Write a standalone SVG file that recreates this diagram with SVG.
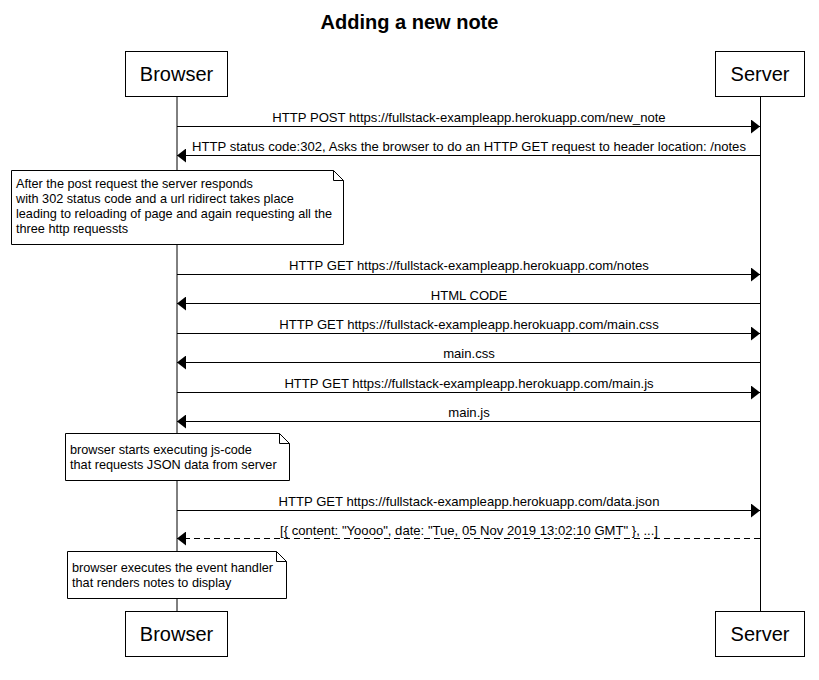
<svg xmlns="http://www.w3.org/2000/svg" width="819" height="680" viewBox="0 0 819 680">
<style>
text{font-family:"Liberation Sans",Arial,sans-serif;fill:#000}
.title{font-size:20px;font-weight:bold;text-anchor:middle}
.actor rect{fill:#fff;stroke:#000;stroke-width:1}
.actor text{font-size:20px;text-anchor:middle}
.life{stroke:#000;stroke-width:1}
.msg{stroke:#000;stroke-width:1;fill:none}
.dash{stroke-dasharray:6,4}
.lbl{font-size:13.1px;text-anchor:middle}
.note path{fill:#fff;stroke:#000;stroke-width:1}
.note text{font-size:12.7px}
</style>
<defs>
<marker id="ah" markerWidth="9" markerHeight="14" refX="9" refY="7" orient="auto" markerUnits="userSpaceOnUse">
<path d="M0,0 L9,7 L0,14 Z" fill="#000"/>
</marker>
</defs>
<rect width="819" height="680" fill="#fff"/>
<text class="title" x="409.5" y="29">Adding a new note</text>
<g id="lifelines">
<line class="life" x1="177" y1="96" x2="177" y2="612"/>
<line class="life" x1="760.5" y1="96" x2="760.5" y2="612"/>
</g>
<g id="browser-top" class="actor"><rect x="125.5" y="51.5" width="102" height="45"/><text x="176.5" y="81">Browser</text></g>
<g id="server-top" class="actor"><rect x="715.5" y="51.5" width="89" height="45"/><text x="760" y="81">Server</text></g>
<g id="browser-bottom" class="actor"><rect x="125.5" y="611.5" width="102" height="45"/><text x="176.5" y="641">Browser</text></g>
<g id="server-bottom" class="actor"><rect x="715.5" y="611.5" width="89" height="45"/><text x="760" y="641">Server</text></g>
<g id="connectors">
<line class="msg" x1="177" y1="126.5" x2="760" y2="126.5" marker-end="url(#ah)"/>
<text class="lbl" x="469" y="122">HTTP POST https://fullstack-exampleapp.herokuapp.com/new_note</text>
<line class="msg" x1="760" y1="155.5" x2="177" y2="155.5" marker-end="url(#ah)"/>
<text class="lbl" x="469" y="151">HTTP status code:302, Asks the browser to do an HTTP GET request to header location: /notes</text>
<line class="msg" x1="177" y1="274.5" x2="760" y2="274.5" marker-end="url(#ah)"/>
<text class="lbl" x="469" y="270">HTTP GET https://fullstack-exampleapp.herokuapp.com/notes</text>
<line class="msg" x1="760" y1="303.5" x2="177" y2="303.5" marker-end="url(#ah)"/>
<text class="lbl" x="469" y="300">HTML CODE</text>
<line class="msg" x1="177" y1="333.5" x2="760" y2="333.5" marker-end="url(#ah)"/>
<text class="lbl" x="469" y="329">HTTP GET https://fullstack-exampleapp.herokuapp.com/main.css</text>
<line class="msg" x1="760" y1="362.5" x2="177" y2="362.5" marker-end="url(#ah)"/>
<text class="lbl" x="469" y="358">main.css</text>
<line class="msg" x1="177" y1="392.5" x2="760" y2="392.5" marker-end="url(#ah)"/>
<text class="lbl" x="469" y="388">HTTP GET https://fullstack-exampleapp.herokuapp.com/main.js</text>
<line class="msg" x1="760" y1="421.5" x2="177" y2="421.5" marker-end="url(#ah)"/>
<text class="lbl" x="469" y="417">main.js</text>
<line class="msg" x1="177" y1="510.5" x2="760" y2="510.5" marker-end="url(#ah)"/>
<text class="lbl" x="469" y="506">HTTP GET https://fullstack-exampleapp.herokuapp.com/data.json</text>
<line class="msg dash" x1="760" y1="538.5" x2="177" y2="538.5" marker-end="url(#ah)"/>
<text class="lbl" x="469" y="535">[{ content: "Yoooo", date: "Tue, 05 Nov 2019 13:02:10 GMT" }, ...]</text>
</g>
<g id="note1" class="note">
<path d="M11.5,170.5 H333.5 L343.5,180.5 V244.5 H11.5 Z M333.5,170.5 V180.5 H343.5"/>
<text x="16" y="188">After the post request the server responds</text>
<text x="16" y="203">with 302 status code and a url ridirect takes place</text>
<text x="16" y="218">leading to reloading of page and again requesting all the</text>
<text x="16" y="233">three http requessts</text>
</g>
<g id="note2" class="note">
<path d="M65.5,433.5 H279.5 L289.5,443.5 V480.5 H65.5 Z M279.5,433.5 V443.5 H289.5"/>
<text x="70" y="454">browser starts executing js-code</text>
<text x="70" y="469">that requests JSON data from server</text>
</g>
<g id="note3" class="note">
<path d="M67.5,551.5 H276.5 L286.5,561.5 V598.5 H67.5 Z M276.5,551.5 V561.5 H286.5"/>
<text x="72" y="572">browser executes the event handler</text>
<text x="72" y="587">that renders notes to display</text>
</g>
</svg>
